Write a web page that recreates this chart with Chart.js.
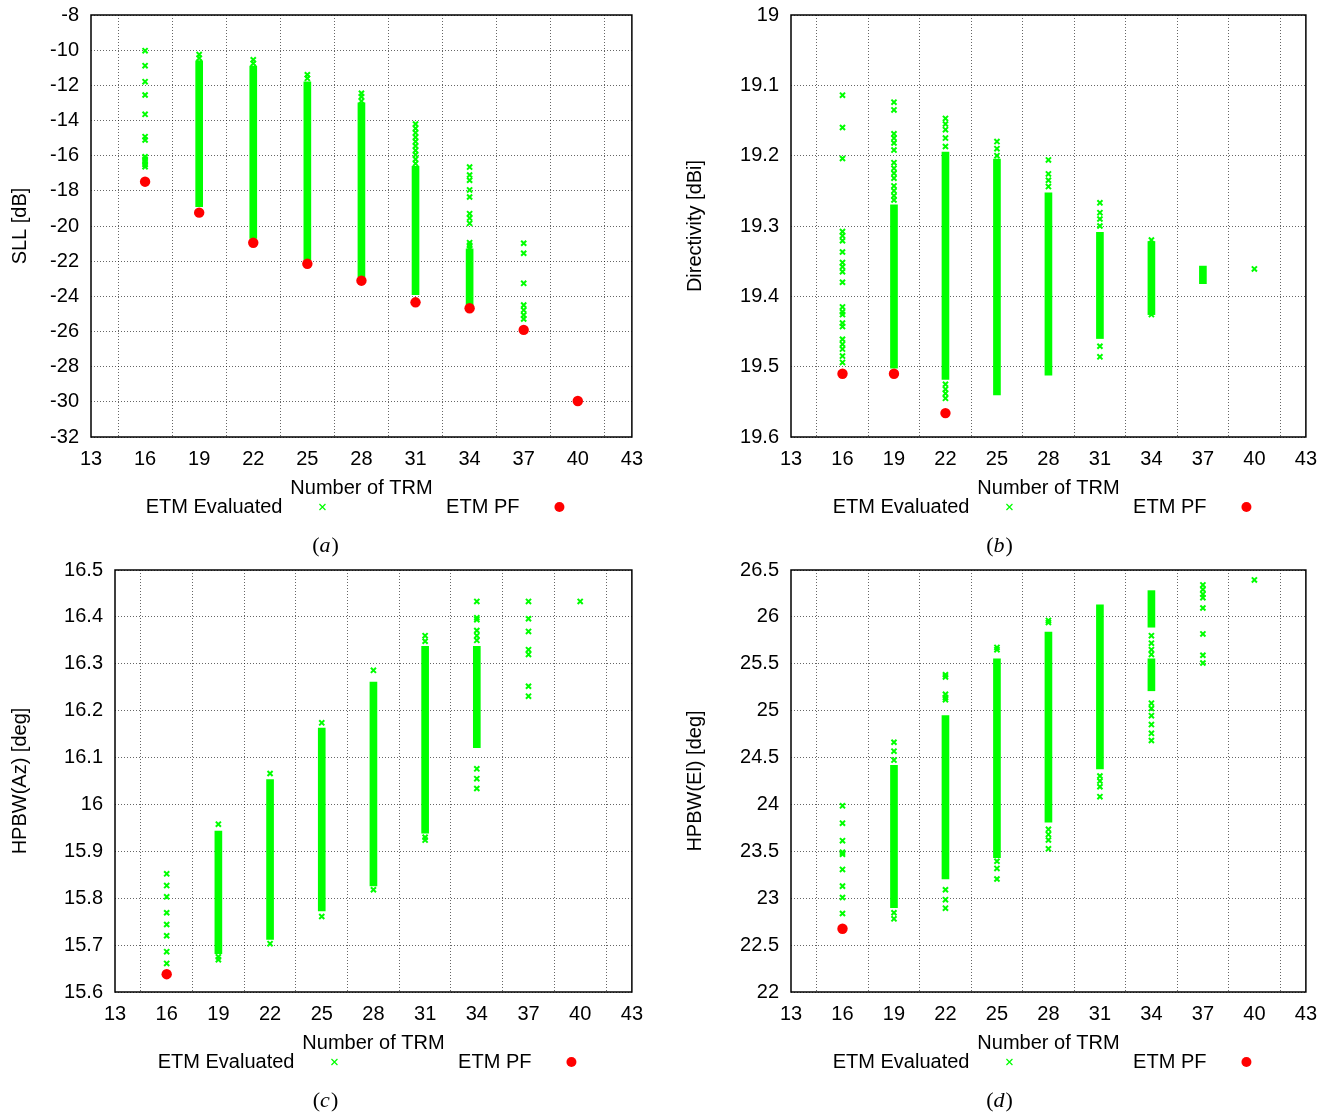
<!DOCTYPE html>
<html>
<head>
<meta charset="utf-8">
<script src="https://cdn.jsdelivr.net/npm/chart.js@4.4.0/dist/chart.umd.min.js"></script>
<style>
  body { margin: 0; background: #fff; width: 1340px; height: 1117px; position: relative; overflow: hidden; }
  canvas { position: absolute; }
</style>
</head>
<body>
<canvas id="chartA" width="653" height="569" style="left:0;top:-9px"></canvas>
<canvas id="chartB" width="653" height="569" style="left:674px;top:-9px"></canvas>
<canvas id="chartC" width="653" height="569" style="left:0;top:546px"></canvas>
<canvas id="chartD" width="653" height="569" style="left:674px;top:546px"></canvas>
<script>
// x positions shared by all four panels
const trmCounts = [16, 19, 22, 25, 28, 31, 34, 37, 40]
const xTicks = { min: 13, max: 43, step: 3 }

// (a) SLL [dB]
const sllPF = [-17.48, -19.24, -20.95, -22.15, -23.11, -24.34, -24.68, -25.91, -29.95]
const sllDenseX = [19, 22, 25, 28, 31, 34]
const sllDenseLo = [-18.9, -20.7, -21.95, -22.9, -23.9, -24.5]
const sllDenseHi = [-10.6, -10.9, -11.8, -13.0, -16.6, -21.3]
const sllSparse = [
  [-10.03, -10.88, -11.79, -12.55, -13.65, -14.92, -15.11, -16.06, -16.2, -16.34, -16.5, -16.63],
  [-10.25, -10.45, -10.7, -11.0, -11.3],
  [-10.55, -10.75, -11.0, -11.2],
  [-11.4, -11.6],
  [-12.45, -12.65, -12.9, -13.2, -14.6, -15.2],
  [-14.2, -14.45, -14.7, -14.95, -15.2, -15.45, -15.7, -15.95, -16.2, -16.45, -23.6],
  [-16.65, -17.1, -17.4, -17.95, -18.35, -19.3, -19.55, -19.85, -20.95, -21.1, -21.25],
  [-20.98, -21.55, -23.26, -24.5, -24.78, -25.06, -25.29],
  [],
]

// (b) Directivity [dBi]
const dirPF = [19.51, 19.51, 19.566, null, null, null, null, null, null]
const dirDenseX = [19, 22, 25, 28, 31, 34, 37]
const dirDenseLo = [19.27, 19.195, 19.205, 19.253, 19.309, 19.322, 19.357]
const dirDenseHi = [19.502, 19.518, 19.54, 19.512, 19.46, 19.426, 19.382]
const dirSparse = [
  [19.114, 19.16, 19.204, 19.308, 19.314, 19.321, 19.337, 19.352, 19.358, 19.365, 19.38, 19.415, 19.422, 19.426, 19.438, 19.443, 19.461, 19.468, 19.475, 19.485, 19.494],
  [19.124, 19.135, 19.169, 19.175, 19.182, 19.192, 19.21, 19.218, 19.225, 19.232, 19.243, 19.25, 19.257, 19.263],
  [19.147, 19.155, 19.163, 19.175, 19.187, 19.525, 19.532, 19.538, 19.545],
  [19.18, 19.19, 19.2],
  [19.206, 19.226, 19.235, 19.244],
  [19.267, 19.281, 19.29, 19.3, 19.471, 19.486],
  [19.32, 19.426],
  [],
  [19.361],
]

// (c) HPBW(Az) [deg]
const azPF = [15.638, null, null, null, null, null, null, null, null]
const azDenseX = [19, 22, 25, 28, 31, 34]
const azDenseLo = [15.682, 15.712, 15.773, 15.826, 15.939, 16.121]
const azDenseHi = [15.943, 16.053, 16.163, 16.261, 16.337, 16.337]
const azSparse = [
  [15.852, 15.827, 15.803, 15.769, 15.744, 15.72, 15.686, 15.661],
  [15.958, 15.669, 15.675],
  [16.066, 15.703],
  [16.174, 15.761],
  [16.286, 15.818],
  [16.36, 16.348, 15.93, 15.924],
  [16.433, 16.398, 16.394, 16.371, 16.36, 16.35, 16.076, 16.055, 16.034],
  [16.433, 16.396, 16.369, 16.33, 16.32, 16.252, 16.231],
  [16.433],
]

// (d) HPBW(El) [deg]
const elPF = [22.674, null, null, null, null, null, null, null, null]
const elDenseX = [19, 22, 25, 28, 31, 34, 34]
const elDenseLo = [22.9, 23.205, 23.432, 23.81, 24.379, 25.212, 25.89]
const elDenseHi = [24.417, 24.947, 25.553, 25.837, 26.129, 25.553, 26.28]
const elSparse = [
  [23.985, 23.8, 23.614, 23.49, 23.47, 23.307, 23.129, 23.008, 22.837],
  [24.663, 24.568, 24.473, 22.845, 22.78],
  [25.383, 25.36, 25.174, 25.14, 25.117, 23.09, 22.985, 22.894],
  [25.674, 25.65, 23.394, 23.318, 23.205],
  [25.962, 25.94, 23.735, 23.68, 23.621, 23.527],
  [24.303, 24.25, 24.189, 24.083],
  [25.8, 25.72, 25.65, 25.6, 25.08, 25.023, 24.947, 24.852, 24.758, 24.682],
  [26.341, 26.292, 26.242, 26.205, 26.095, 25.818, 25.591, 25.508],
  [26.394],
]

const GREEN = "#00ff00"
const RED = "#ff0000"
const FONT = '"Liberation Sans", Arial, Helvetica, sans-serif'

// canvases sit 9px higher than the page layout, so key rows are shifted too
const KEY_Y = 516
const CAPTION_Y = 555

// frame round the plot area plus gnuplot style key and caption under it
const framePlugin = {
  id: "frame",
  afterDraw(chart) {
    const {ctx, chartArea} = chart
    const {left, right, top, bottom} = chartArea
    ctx.save()
    ctx.strokeStyle = "#000"
    ctx.lineWidth = 1.5
    ctx.strokeRect(left, top, right - left, bottom - top)

    const cx = (left + right) / 2
    const ky = KEY_Y
    ctx.font = "20px " + FONT
    ctx.fillStyle = "#000"
    ctx.textAlign = "right"
    ctx.textBaseline = "middle"
    ctx.fillText("ETM Evaluated", cx - 79, ky)
    ctx.fillText("ETM PF", cx + 158, ky)

    // green x
    const mx = cx - 39
    ctx.strokeStyle = GREEN
    ctx.lineWidth = 1.2
    ctx.beginPath()
    ctx.moveTo(mx - 3, ky - 3); ctx.lineTo(mx + 3, ky + 3)
    ctx.moveTo(mx - 3, ky + 3); ctx.lineTo(mx + 3, ky - 3)
    ctx.stroke()
    // red dot
    ctx.fillStyle = RED
    ctx.beginPath()
    ctx.arc(cx + 198, ky, 5, 0, Math.PI * 2)
    ctx.fill()

    // caption "(x)"
    const letter = chart.options.plugins.frame.caption
    const cy = CAPTION_Y
    const upright = '22px "Liberation Serif", "DejaVu Serif", serif'
    const italic = 'italic 22px "Liberation Serif", "DejaVu Serif", serif'
    ctx.fillStyle = "#000"
    ctx.textAlign = "left"
    ctx.font = upright
    const wp = ctx.measureText("(").width
    const wq = ctx.measureText(")").width
    ctx.font = italic
    const wl = ctx.measureText(letter).width
    let x = 325 - (wp + wl + wq) / 2
    ctx.font = upright
    ctx.fillText("(", x, cy)
    ctx.font = italic
    ctx.fillText(letter, x + wp, cy)
    ctx.font = upright
    ctx.fillText(")", x + wp + wl + 1, cy)
    ctx.restore()
  },
}

function tickText(v) {
  return String(Math.round(v * 100) / 100)
}

function buildChart(id, cfg) {
  const sparsePoints = []
  cfg.sparse.forEach((list, i) => {
    list.forEach((y) => sparsePoints.push({x: trmCounts[i], y: y}))
  })
  const pfPoints = []
  cfg.pf.forEach((y, i) => {
    if (y !== null) pfPoints.push({x: trmCounts[i], y: y})
  })
  const densePoints = cfg.denseX.map((x, i) => ({x: x, y: [cfg.denseLo[i], cfg.denseHi[i]]}))

  const gridOpts = {
    color: "rgba(0,0,0,0.6)",
    lineWidth: 1,
    drawTicks: false,
  }
  // in v4 border.dash is what dashes the grid lines
  const dotted = {display: false, dash: [1, 2]}

  return new Chart(document.getElementById(id), {
    type: "scatter",
    data: {
      datasets: [
        {
          label: "ETM PF",
          data: pfPoints,
          pointStyle: "circle",
          pointRadius: 5.2,
          backgroundColor: RED,
          borderColor: RED,
          borderWidth: 0,
          order: 0,
        },
        {
          label: "ETM Evaluated",
          data: sparsePoints,
          pointStyle: "crossRot",
          pointRadius: 3.6,
          borderColor: GREEN,
          backgroundColor: GREEN,
          borderWidth: 2,
          order: 1,
        },
        {
          type: "bar",
          label: "ETM Evaluated (dense)",
          data: densePoints,
          backgroundColor: GREEN,
          borderWidth: 0,
          barThickness: 7,
          order: 2,
        },
      ],
    },
    options: {
      responsive: false,
      animation: false,
      layout: {padding: {top: 24, right: 21, left: 0, bottom: 0}},
      plugins: {
        legend: {display: false},
        tooltip: {enabled: false},
        frame: {caption: cfg.caption},
      },
      scales: {
        x: {
          type: "linear",
          min: xTicks.min,
          max: xTicks.max,
          offset: false,
          grid: gridOpts,
          border: dotted,
          ticks: {
            stepSize: xTicks.step,
            autoSkip: false,
            maxRotation: 0,
            padding: 10,
            color: "#000",
            font: {family: FONT, size: 20},
          },
          title: {
            display: true,
            text: "Number of TRM",
            color: "#000",
            font: {family: FONT, size: 20},
            padding: {top: 0, bottom: 60},
          },
          afterFit(scale) {
            scale.height = 123
          },
        },
        y: {
          type: "linear",
          min: cfg.yMin,
          max: cfg.yMax,
          reverse: !!cfg.reverse,
          grid: gridOpts,
          border: dotted,
          ticks: {
            stepSize: cfg.yStep,
            autoSkip: false,
            padding: 12,
            color: "#000",
            font: {family: FONT, size: 20},
            callback: tickText,
          },
          title: {
            display: true,
            text: cfg.yTitle,
            color: "#000",
            font: {family: FONT, size: 20},
            padding: {top: cfg.titlePad, bottom: 0},
          },
          afterFit(scale) {
            scale.width = cfg.yWidth
          },
        },
      },
    },
    plugins: [framePlugin],
  })
}

buildChart("chartA", {
  caption: "a", yTitle: "SLL [dB]", yMin: -32, yMax: -8, yStep: 2,
  yWidth: 91, titlePad: 8,
  pf: sllPF, sparse: sllSparse, denseX: sllDenseX, denseLo: sllDenseLo, denseHi: sllDenseHi,
})
buildChart("chartB", {
  caption: "b", yTitle: "Directivity [dBi]", yMin: 19, yMax: 19.6, yStep: 0.1, reverse: true,
  yWidth: 117, titlePad: 9,
  pf: dirPF, sparse: dirSparse, denseX: dirDenseX, denseLo: dirDenseLo, denseHi: dirDenseHi,
})
buildChart("chartC", {
  caption: "c", yTitle: "HPBW(Az) [deg]", yMin: 15.6, yMax: 16.5, yStep: 0.1,
  yWidth: 115, titlePad: 8,
  pf: azPF, sparse: azSparse, denseX: azDenseX, denseLo: azDenseLo, denseHi: azDenseHi,
})
buildChart("chartD", {
  caption: "d", yTitle: "HPBW(El) [deg]", yMin: 22, yMax: 26.5, yStep: 0.5,
  yWidth: 117, titlePad: 9,
  pf: elPF, sparse: elSparse, denseX: elDenseX, denseLo: elDenseLo, denseHi: elDenseHi,
})
</script>
</body>
</html>
